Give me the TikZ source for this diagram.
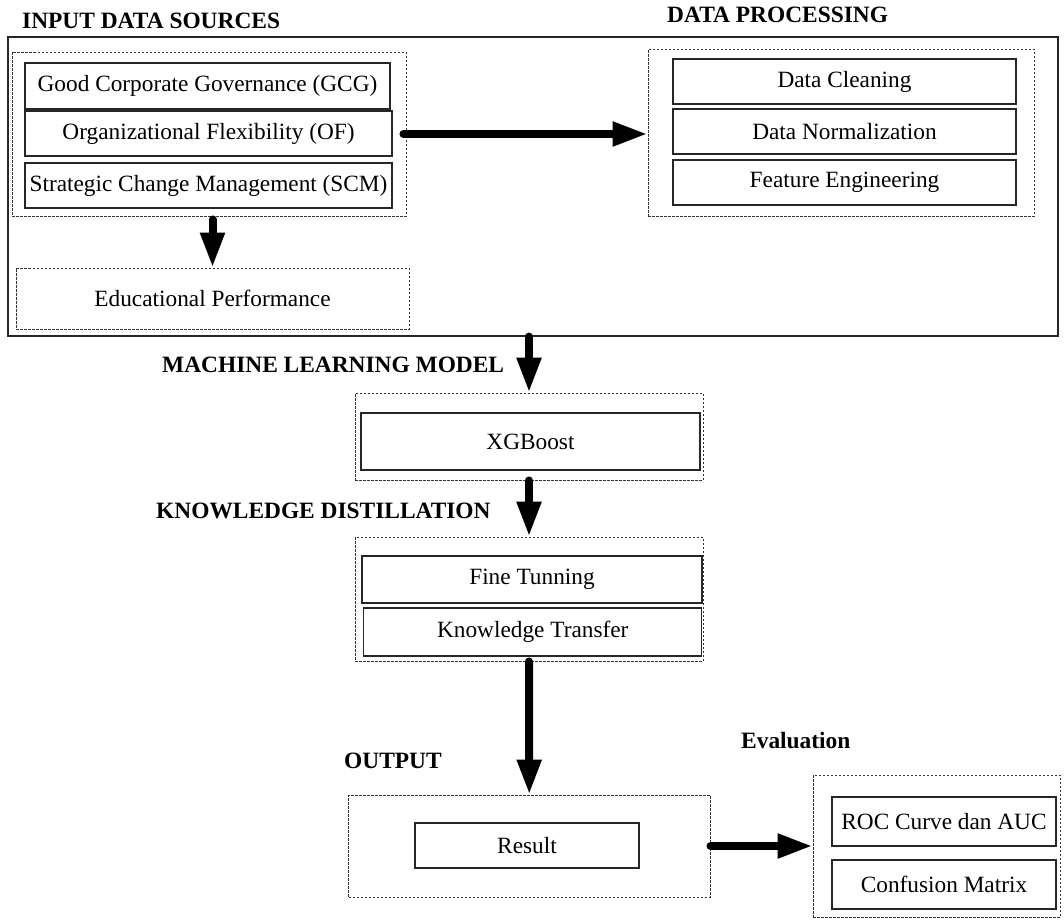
\documentclass[tikz,border=0pt]{standalone}
\usepackage{fontspec}
\setmainfont{Liberation Serif}
\usetikzlibrary{arrows.meta}
\tikzset{
  txt/.style={font=\fontsize{23.3}{27}\selectfont},
  ttl/.style={font=\fontsize{23.4}{27}\selectfont\bfseries, inner sep=0pt, anchor=base west},
  solidbox/.style={draw=black!85, line width=1.2pt, rectangle, inner sep=0pt, txt},
  dashbox/.style={draw=black!80, line width=0.9pt, dash pattern=on 2.5pt off 1.5pt, rectangle, inner sep=0pt, txt},
  bigarrow/.style={line width=8pt, line cap=round, -{Triangle[length=35pt,width=23pt]}},
}
\begin{document}
\begin{tikzpicture}[x=1pt,y=-1pt]
\useasboundingbox (0,0) rectangle (1064,921);

% titles
\node[ttl] (t1) at (22,28) {INPUT DATA SOURCES};
\node[ttl] (t2) at (667,22) {DATA PROCESSING};
\node[ttl] (t3) at (162,372) {MACHINE LEARNING MODEL};
\node[ttl] (t4) at (156,518) {KNOWLEDGE DISTILLATION};
\node[ttl] (t5) at (344,768) {OUTPUT};
\node[ttl] (t6) at (741,748) {Evaluation};

% outer solid frame
\node[solidbox, minimum width=1050pt, minimum height=299pt] (outer) at (533,186.5) {};

% input data sources
\node[dashbox, minimum width=394pt, minimum height=164pt] (inbox) at (209,134) {};
\node[solidbox, minimum width=365pt, minimum height=46pt] (gcg) at (207.5,86) {Good Corporate Governance (GCG)};
\node[solidbox, minimum width=367pt, minimum height=45pt] (of) at (208.5,133.5) {Organizational Flexibility (OF)};
\node[solidbox, minimum width=367pt, minimum height=45pt] (scm) at (208.5,185.5) {Strategic Change Management (SCM)};
\node[dashbox, minimum width=393pt, minimum height=61pt] (edu) at (212.5,298.5) {Educational Performance};

% data processing
\node[dashbox, minimum width=386pt, minimum height=167pt] (dp) at (841,132.5) {};
\node[solidbox, minimum width=343pt, minimum height=45pt] (clean) at (844.5,81.5) {Data Cleaning};
\node[solidbox, minimum width=343pt, minimum height=45pt] (norm) at (844.5,131.5) {Data Normalization};
\node[solidbox, minimum width=343pt, minimum height=45pt] (feat) at (844.5,182.5) {Feature Engineering};

% machine learning model
\node[dashbox, minimum width=348pt, minimum height=87pt] (ml) at (529,436.5) {};
\node[solidbox, minimum width=339pt, minimum height=57pt] (xgb) at (530.5,441.5) {XGBoost};

% knowledge distillation
\node[dashbox, minimum width=348pt, minimum height=124pt] (kd) at (529,599) {};
\node[solidbox, minimum width=340pt, minimum height=47pt] (fine) at (532,579.5) {Fine Tunning};
\node[solidbox, minimum width=338pt, minimum height=48pt] (kt) at (532.75,632) {Knowledge Transfer};

% output
\node[dashbox, minimum width=361.5pt, minimum height=102pt] (out) at (529.25,846) {};
\node[solidbox, minimum width=224pt, minimum height=45pt] (res) at (527,845.5) {Result};

% evaluation
\node[dashbox, minimum width=247pt, minimum height=142pt] (ev) at (936.5,846) {};
\node[solidbox, minimum width=224pt, minimum height=49pt] (roc) at (944,821.5) {ROC Curve dan AUC};
\node[solidbox, minimum width=224pt, minimum height=49pt] (conf) at (944,884.5) {Confusion Matrix};

% arrows
\draw[bigarrow] ([xshift=-3pt]inbox.east) -- (dp.west |- inbox.east);
\draw[bigarrow] ([yshift=-3pt]edu.north |- inbox.south) -- (edu.north);
\draw[bigarrow] (ml.north |- outer.south) -- (ml.north);
\draw[bigarrow] (ml.south) -- (kd.north);
\draw[bigarrow] (kd.south) -- (out.north);
\draw[bigarrow] (out.east) -- (ev.west);
\end{tikzpicture}
\end{document}
